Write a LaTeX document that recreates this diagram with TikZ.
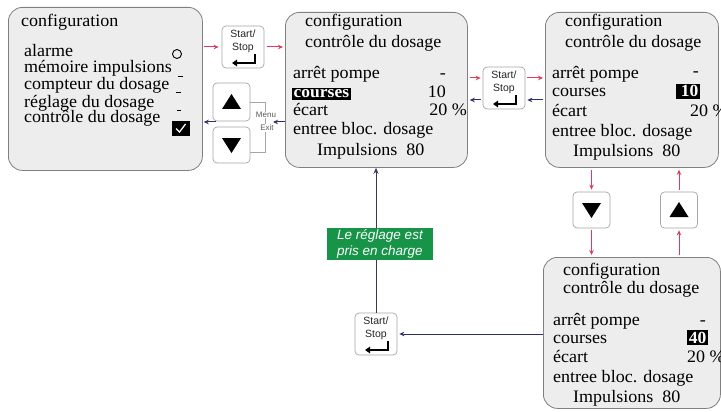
\documentclass[tikz,border=0pt]{standalone}
\usepackage{fontspec}
\setmainfont[FakeStretch=1.03]{Liberation Serif}
\newfontfamily\keyfont{Liberation Sans}
\usetikzlibrary{arrows.meta,calc}
\definecolor{boxfill}{HTML}{EDEDED}
\definecolor{boxline}{HTML}{808080}
\definecolor{redarr}{HTML}{E23A5E}
\definecolor{bluearr}{HTML}{2E2E6E}
\definecolor{darkline}{HTML}{3A3A4E}
\definecolor{greenlab}{HTML}{179448}
\tikzset{
  screen/.style={draw=boxline, fill=boxfill, rounded corners=14pt, line width=0.8pt, anchor=north west},
  txt/.style={inner sep=0pt, anchor=base west, font=\fontsize{17.5}{17.5}\selectfont},
  valtxt/.style={inner sep=0pt, anchor=base east, font=\fontsize{17.5}{17.5}\selectfont},
  hltxt/.style={inner sep=1.5pt, anchor=base east, fill=black, text=white, font=\fontsize{17}{17}\selectfont\bfseries},
  keybox/.style={draw=gray!70, fill=white, rounded corners=4pt, line width=0.7pt},
  keytxt/.style={inner sep=0pt, align=center, anchor=north, text=black!85, font=\keyfont\fontsize{10.5}{13}\selectfont},
  menutxt/.style={inner sep=0.6pt, fill=white, text=black!65, font=\keyfont\fontsize{8}{8}\selectfont},
  redarrow/.style={draw=redarr, line width=1pt, -{Stealth[length=5pt,width=4.5pt]}},
  bluearrow/.style={draw=bluearr, line width=1pt, -{Stealth[length=5pt,width=4.5pt]}},
  darkarrow/.style={draw=darkline, line width=1pt, -{Stealth[length=6pt,width=5pt]}},
  retarrow/.style={line width=1.6pt, -{Triangle[length=5pt,width=6.5pt]}},
  greenbox/.style={fill=greenlab, text=white, align=center, inner sep=0pt, minimum width=106pt, minimum height=32pt, font=\keyfont\itshape\fontsize{13.5}{16}\selectfont},
  dashmark/.style={line width=1pt}
}
\begin{document}
\begin{tikzpicture}[x=1pt,y=-1pt]
\useasboundingbox[fill=white] (0,0) rectangle (721,412);

% ---------- screens
\node[screen, minimum width=194pt, minimum height=163pt] (s1) at (8,7) {};
\node[screen, minimum width=182pt, minimum height=155pt] (s2) at (285,12) {};
\node[screen, minimum width=173pt, minimum height=155pt] (s3) at (545,12) {};
\node[screen, minimum width=177pt, minimum height=151pt] (s4) at (543,257) {};

% ---------- screen 1
\node[txt] (t1a) at (21,27) {configuration};
\node[txt] (t1b) at (24,57) {alarme};
\node[txt] (t1c) at (24,73) {mémoire impulsions};
\node[txt] (t1d) at (24,90) {compteur du dosage};
\node[txt] (t1e) at (24,107) {réglage du dosage};
\node[txt] (t1f) at (24,123) {contrôle du dosage};
\draw[line width=0.9pt] (177,54) circle (4.5);
\draw[dashmark] (178,77) -- (183,77);
\draw[dashmark] (176,93) -- (181,93);
\draw[dashmark] (177,111) -- (181,111);
\fill[black] (172,121) rectangle (190,136);
\draw[white, line width=1.3pt] (176,128.5) -- (179.5,132) -- (185.5,124);

% ---------- screen 2
\node[txt] (t2a) at (305,27) {configuration};
\node[txt] (t2b) at (305,48) {contrôle du dosage};
\node[txt] (t2c) at (293,78) {arrêt pompe};
\node[txt, inner sep=1.5pt, fill=black, text=white, font=\fontsize{17}{17}\selectfont\bfseries] (t2d) at (292,98) {courses};
\node[txt] (t2e) at (293,115) {écart};
\node[txt] (t2f) at (293,135) {entree bloc. dosage};
\node[txt] (t2g) at (317,155) {Impulsions\ \ 80};
\node[valtxt] (v2a) at (446,78) {-};
\node[valtxt] (v2b) at (446,98) {10};
\node[valtxt] (v2c) at (467,115) {20 \%};

% ---------- screen 3
\node[txt] (t3a) at (565,27) {configuration};
\node[txt] (t3b) at (565,48) {contrôle du dosage};
\node[txt] (t3c) at (552,79) {arrêt pompe};
\node[txt] (t3d) at (552,97) {courses};
\node[txt] (t3e) at (552,117) {écart};
\node[txt] (t3f) at (552,136) {entree bloc. dosage};
\node[txt] (t3g) at (573,156) {Impulsions\ \ 80};
\node[valtxt] (v3a) at (699,77) {-};
\node[hltxt] (v3b) at (700,97) {\,10};
\node[txt] (v3c) at (690,117) {20 \%};

% ---------- screen 4
\node[txt] (t4a) at (563,275) {configuration};
\node[txt] (t4b) at (563,293) {contrôle du dosage};
\node[txt] (t4c) at (553,325) {arrêt pompe};
\node[txt] (t4d) at (553,343) {courses};
\node[txt] (t4e) at (553,362) {écart};
\node[txt] (t4f) at (553,382) {entree bloc. dosage};
\node[txt] (t4g) at (573,402) {Impulsions\ \ 80};
\node[valtxt] (v4a) at (706,325) {-};
\node[hltxt] (v4b) at (708,343) {40};
\node[txt] (v4c) at (687,362) {20 \%};

% ---------- Start/Stop keys
\foreach \k/\x/\y in {k1/243/47, k2/504/88, k3/376/334}{
  \node[keybox, minimum width=42pt, minimum height=42pt] (\k) at (\x,\y) {};
  \node[keytxt] at ($(\k.north)+(0,4)$) {Start/\\Stop};
  \draw[retarrow] ($(\k.center)+(12,7)$) |- ($(\k.center)+(-11,16)$);
}

% ---------- arrow keys
\node[keybox, minimum width=37pt, minimum height=38pt] (u1) at (231.5,102) {};
\node[keybox, minimum width=37pt, minimum height=36pt] (d1) at (231.5,145) {};
\node[keybox, minimum width=37pt, minimum height=36pt] (d2) at (591.5,210) {};
\node[keybox, minimum width=37pt, minimum height=36pt] (u2) at (679,210) {};
\foreach \k in {u1,u2}{
  \fill ($(\k.center)+(-9.5,7)$) -- ($(\k.center)+(9.5,7)$) -- ($(\k.center)+(0,-8)$) -- cycle;
}
\foreach \k in {d1,d2}{
  \fill ($(\k.center)+(-9.5,-7)$) -- ($(\k.center)+(9.5,-7)$) -- ($(\k.center)+(0,8)$) -- cycle;
}

% ---------- Menu / Exit bracket
\coordinate (db) at ($(d1.east)+(0,7)$);
\draw[draw=gray!70, line width=0.7pt] (u1.east) -- ++(15,0) coordinate (mb) -- (mb |- db) -- (db);
\node[menutxt] (mn) at (266,115) {Menu};
\node[menutxt] (ex) at (267,128) {Exit};
\coordinate (mx) at (273,122);

% ---------- connectors
\draw[redarrow] ($(s1.east |- k1)+(1,0)$) -- ($(k1.west)+(-3,0)$);
\draw[redarrow] ($(k1.east)+(3,0)$) -- ($(s2.west |- k1)+(-2,0)$);
\draw[bluearrow] (s2.west |- mx) -- (mx);
\draw[bluearrow] ($(u1.west |- mx)+(3,0)$) -- ($(s1.east |- mx)+(1,0)$);

\draw[redarrow] ($(s2.east |- k2)+(2,-10)$) -- ($(k2.west)+(-2,-10)$);
\draw[redarrow] ($(k2.east)+(2,-10)$) -- ($(s3.west |- k2)+(-2,-10)$);
\draw[bluearrow] ($(s3.west |- k2)+(-2,12)$) -- ($(k2.east)+(2,12)$);
\draw[bluearrow] ($(k2.west)+(-2,12)$) -- ($(s2.east |- k2)+(2,12)$);

\draw[redarrow] ($(s3.south -| d2)+(0,2)$) -- ($(d2.north)+(0,-2)$);
\draw[redarrow] ($(d2.south)+(0,2)$) -- ($(s4.north -| d2)+(0,-2)$);
\draw[redarrow] ($(s4.north -| u2)+(0,-2)$) -- ($(u2.south)+(0,2)$);
\draw[redarrow] ($(u2.north)+(0,-2)$) -- ($(s3.south -| u2)+(0,2)$);

\draw[bluearrow] (s4.west |- k3) -- ($(k3.east)+(2,0)$);
\draw[darkarrow] (k3.north) -- (s2.south -| k3);
\node[greenbox] (gl) at (380,244) {Le réglage est\\pris en charge};
\end{tikzpicture}
\end{document}
